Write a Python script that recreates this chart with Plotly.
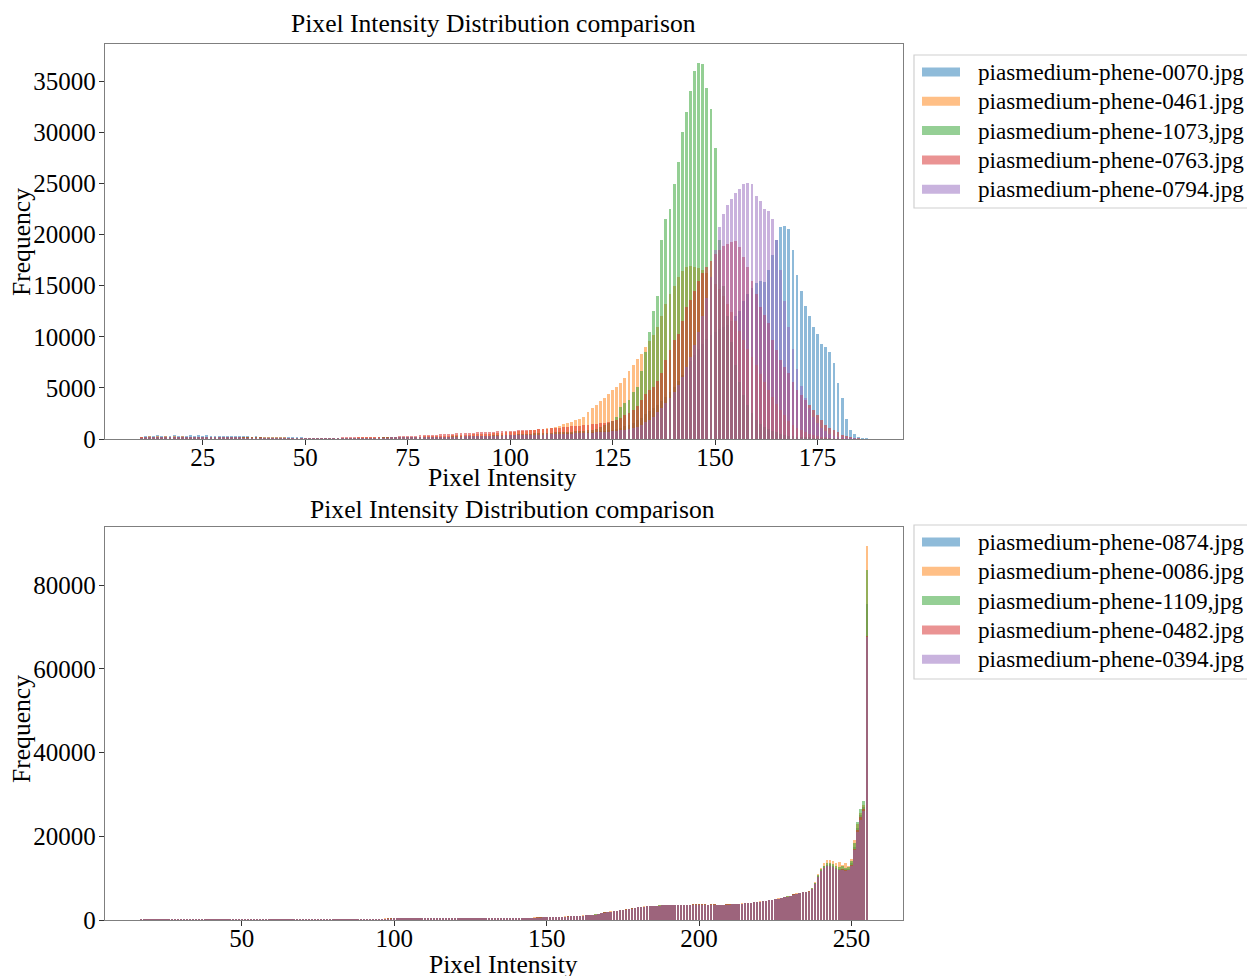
import plotly.graph_objects as go
from plotly.subplots import make_subplots

# ---------------- DATA ----------------
title_text = "Pixel Intensity Distribution comparison"
x_label = "Pixel Intensity"
y_label = "Frequency"

top_names = ["piasmedium-phene-0070.jpg", "piasmedium-phene-0461.jpg", "piasmedium-phene-1073,jpg",
             "piasmedium-phene-0763.jpg", "piasmedium-phene-0794.jpg"]
bottom_names = ["piasmedium-phene-0874.jpg", "piasmedium-phene-0086.jpg", "piasmedium-phene-1109,jpg",
                "piasmedium-phene-0482.jpg", "piasmedium-phene-0394.jpg"]

colors = ["#1f77b4", "#ff7f0e", "#2ca02c", "#d62728", "#9467bd"]

top_start = 10      # first pixel intensity of the top-panel lists
bottom_start = 17   # first pixel intensity of the bottom-panel lists

top_0070 = [
    150, 280, 320, 300, 350, 280, 330, 300, 360, 290,
    340, 310, 370, 300, 350, 320, 380, 300, 340, 310,
    330, 290, 320, 280, 300, 260, 280, 240, 250, 220,
    200, 180, 170, 150, 140, 130, 120, 110, 100, 100,
    90, 90, 80, 80, 80, 70, 70, 70, 70, 70,
    70, 70, 70, 80, 80, 80, 90, 90, 100, 100,
    110, 110, 120, 120, 130, 130, 140, 150, 150, 160,
    170, 170, 180, 190, 200, 200, 210, 220, 230, 240,
    250, 260, 270, 280, 290, 300, 310, 320, 330, 340,
    350, 360, 370, 380, 390, 400, 410, 420, 430, 450,
    460, 480, 500, 520, 540, 560, 580, 600, 620, 650,
    680, 720, 760, 800, 850, 900, 980, 1100, 1250, 1400,
    1600, 1850, 2100, 2400, 2700, 3000, 3300, 3700, 4100, 4600,
    5100, 5700, 6300, 7000, 7600, 8200, 8800, 9300, 9800, 10200,
    10500, 10800, 11000, 11200, 11500, 12000, 12500, 13500, 14200, 14800,
    15300, 15500, 15400, 16500, 18000, 19500, 20700, 20800, 20500, 18500,
    16000, 14500, 13000, 12000, 11000, 10300, 9300, 9000, 8500, 7400,
    5500, 4000, 2000, 900, 500, 200, 80, 30]

top_0461 = [
    100, 200, 250, 230, 260, 240, 250, 230, 260, 240,
    250, 230, 240, 220, 240, 220, 230, 210, 220, 200,
    210, 190, 200, 180, 180, 170, 160, 150, 150, 140,
    130, 120, 110, 110, 100, 100, 90, 90, 80, 80,
    80, 70, 70, 70, 70, 70, 70, 70, 80, 80,
    80, 90, 90, 100, 100, 110, 110, 120, 130, 140,
    150, 160, 170, 180, 190, 200, 210, 220, 230, 250,
    260, 280, 290, 300, 320, 340, 350, 370, 390, 410,
    430, 450, 470, 490, 510, 530, 560, 590, 620, 650,
    680, 710, 740, 780, 820, 860, 900, 950, 1000, 1060,
    1120, 1200, 1300, 1420, 1550, 1700, 1850, 2000, 2200, 2600,
    3000, 3300, 3700, 4000, 4400, 4800, 5100, 5500, 6000, 6700,
    7200, 7800, 8350, 9000, 9600, 10200, 11000, 12000, 13200, 14200,
    15000, 15800, 16400, 16800, 16900, 16800, 16700, 16500, 16200, 15800,
    15200, 14700, 14000, 13200, 12400, 11500, 10600, 9700, 8800, 8000,
    7200, 6400, 5600, 4800, 4100, 3400, 2800, 2300, 1800, 1400,
    1100, 850, 650, 480, 350, 250, 170, 110, 70, 40,
    20, 10, 0, 0, 0, 0, 0, 0]

top_1073 = [
    80, 150, 200, 180, 220, 200, 210, 190, 220, 200,
    210, 190, 200, 180, 200, 180, 190, 170, 180, 160,
    170, 150, 160, 140, 140, 130, 120, 110, 110, 100,
    90, 90, 80, 80, 70, 70, 60, 60, 60, 60,
    50, 50, 50, 50, 50, 50, 50, 50, 60, 60,
    60, 60, 70, 70, 70, 80, 80, 90, 90, 100,
    100, 110, 120, 120, 130, 140, 150, 160, 170, 180,
    190, 200, 210, 220, 230, 240, 250, 260, 270, 280,
    290, 300, 310, 320, 330, 340, 350, 360, 380, 400,
    420, 440, 460, 480, 500, 520, 540, 560, 580, 600,
    620, 640, 660, 680, 700, 720, 740, 770, 800, 850,
    900, 1000, 1200, 1400, 1550, 1800, 2170, 3150, 3500, 3800,
    4600, 5100, 6700, 8500, 10500, 12500, 14000, 19500, 21500, 22500,
    24900, 27100, 30000, 32000, 34000, 36000, 36800, 36700, 34300, 32300,
    28500, 19500, 15000, 12000, 9500, 7200, 5600, 4300, 3300, 2500,
    1900, 1500, 1200, 1000, 800, 650, 500, 400, 330, 270,
    220, 180, 140, 110, 90, 70, 50, 40, 30, 20,
    10, 0, 0, 0, 0, 0, 0, 0]

top_0763 = [
    100, 180, 220, 200, 230, 210, 220, 200, 230, 200,
    210, 200, 210, 190, 200, 180, 190, 170, 180, 160,
    170, 150, 150, 140, 130, 120, 120, 110, 100, 100,
    90, 90, 80, 80, 80, 70, 70, 70, 70, 70,
    70, 70, 70, 70, 80, 80, 80, 90, 90, 100,
    100, 110, 120, 130, 140, 150, 160, 170, 180, 190,
    200, 220, 240, 260, 280, 300, 320, 340, 360, 380,
    400, 420, 440, 460, 480, 500, 520, 540, 560, 580,
    600, 620, 640, 660, 680, 700, 720, 740, 760, 780,
    800, 820, 840, 860, 880, 900, 920, 950, 980, 1010,
    1040, 1080, 1120, 1160, 1200, 1240, 1280, 1320, 1360, 1400,
    1450, 1500, 1530, 1580, 1650, 1750, 1850, 2050, 2300, 2550,
    2830, 3200, 3800, 4400, 4800, 5100, 5700, 6430, 7700, 8700,
    9650, 10300, 11500, 12900, 13550, 14500, 15500, 16200, 16800, 17450,
    18100, 18500, 18900, 19100, 19300, 19400, 18750, 17800, 16800, 15500,
    14200, 12900, 12100, 11300, 9650, 8700, 7700, 7000, 6430, 5600,
    4780, 4300, 3800, 3300, 2830, 2300, 1850, 1400, 1100, 880,
    700, 400, 300, 150, 80, 30, 0, 0]

top_0794 = [
    80, 140, 170, 160, 180, 170, 180, 160, 170, 160,
    170, 160, 160, 150, 150, 140, 140, 130, 130, 120,
    120, 110, 110, 100, 100, 90, 90, 80, 80, 80,
    70, 70, 60, 60, 60, 60, 50, 50, 50, 50,
    50, 50, 50, 50, 50, 50, 50, 50, 50, 60,
    60, 60, 60, 70, 70, 70, 80, 80, 80, 90,
    90, 100, 100, 110, 110, 120, 120, 130, 140, 150,
    160, 170, 180, 190, 200, 210, 220, 230, 240, 250,
    260, 270, 280, 290, 300, 310, 320, 330, 340, 350,
    360, 370, 380, 390, 400, 410, 420, 430, 440, 450,
    460, 470, 480, 490, 500, 520, 540, 560, 580, 600,
    620, 640, 660, 690, 720, 760, 800, 850, 900, 960,
    1050, 1200, 1400, 1650, 1900, 2200, 2600, 3000, 3500, 4000,
    4600, 5300, 6100, 7000, 8000, 9200, 10500, 12000, 13800, 15800,
    18500, 20700, 22000, 22900, 23500, 24100, 24500, 24900, 25000, 24900,
    23800, 23300, 22500, 22300, 21500, 19500, 16500, 13500, 11000, 8800,
    6800, 5200, 4000, 3000, 2200, 1600, 1100, 750, 500, 320,
    200, 120, 70, 40, 20, 0, 0, 0]

bottom_0874 = [
    40, 30, 30, 40, 30, 30, 40, 30, 30, 30, 40, 30, 30,
    30, 30, 30, 40, 30, 30, 30, 40, 40, 40,
    40, 40, 40, 50, 50, 50, 50, 50, 60, 60,
    60, 60, 60, 70, 70, 70, 70, 80, 80, 80,
    90, 90, 90, 100, 100, 100, 110, 110, 120, 120,
    130, 130, 140, 140, 150, 150, 160, 160, 170, 170,
    180, 180, 190, 190, 200, 200, 200, 210, 210, 210,
    220, 220, 220, 230, 230, 230, 240, 240, 240, 250,
    250, 250, 260, 260, 260, 270, 270, 270, 280, 280,
    280, 290, 290, 290, 300, 300, 300, 310, 310, 320,
    320, 330, 330, 340, 340, 350, 350, 360, 360, 370,
    380, 390, 400, 410, 420, 430, 440, 450, 460, 470,
    480, 490, 500, 510, 520, 540, 560, 580, 600, 620,
    640, 660, 690, 720, 750, 780, 810, 840, 880, 920,
    960, 1000, 1050, 1100, 1150, 1200, 1300, 1500, 1700, 1800,
    1900, 2000, 2100, 2200, 2300, 2400, 2500, 2600, 2750, 2900,
    3000, 3100, 3200, 3250, 3300, 3350, 3400, 3450, 3500, 3550,
    3550, 3600, 3600, 3600, 3650, 3650, 3650, 3650, 3700, 3700,
    3700, 3700, 3700, 3650, 3700, 3700, 3650, 3600, 3650, 3700,
    3700, 3750, 3800, 3800, 3900, 4000, 4050, 4100, 4200, 4300,
    4400, 4450, 4600, 4700, 4800, 5000, 5100, 5200, 5400, 5600,
    5800, 6100, 6300, 6500, 6600, 6700, 6800, 7500, 8800, 10500,
    12000, 12800, 13200, 13400, 13000, 12500, 12200, 12300, 12100, 12200,
    13500, 17500, 22000, 25000, 27000, 75500]

bottom_0086 = [
    30, 40, 30, 30, 40, 30, 30, 40, 30, 30, 30, 40, 30,
    30, 40, 30, 30, 30, 40, 30, 40, 40, 50,
    40, 40, 50, 50, 50, 50, 60, 50, 60, 60,
    60, 70, 60, 70, 70, 80, 70, 80, 80, 90,
    90, 90, 100, 100, 100, 110, 110, 120, 120, 130,
    130, 140, 140, 150, 150, 160, 160, 170, 170, 180,
    180, 190, 190, 200, 200, 210, 210, 210, 220, 220,
    220, 230, 230, 230, 240, 240, 240, 250, 250, 250,
    260, 260, 260, 270, 270, 270, 280, 280, 280, 290,
    290, 290, 300, 300, 300, 310, 310, 320, 320, 330,
    330, 340, 340, 350, 350, 360, 360, 370, 380, 390,
    400, 410, 420, 430, 440, 450, 460, 470, 480, 490,
    500, 510, 520, 540, 560, 580, 600, 620, 640, 660,
    680, 700, 730, 760, 790, 820, 850, 890, 930, 970,
    1010, 1050, 1100, 1150, 1200, 1250, 1350, 1550, 1750, 1850,
    1950, 2050, 2150, 2250, 2350, 2450, 2550, 2650, 2800, 2950,
    3050, 3150, 3250, 3300, 3350, 3400, 3450, 3500, 3550, 3600,
    3600, 3650, 3650, 3650, 3700, 3700, 3700, 3700, 3750, 3750,
    3750, 3750, 3750, 3700, 3750, 3750, 3700, 3650, 3700, 3750,
    3750, 3800, 3850, 3850, 3950, 4050, 4100, 4150, 4250, 4350,
    4450, 4500, 4650, 4750, 4850, 5050, 5150, 5250, 5450, 5650,
    5850, 6150, 6350, 6550, 6650, 6750, 6850, 7600, 9000, 11000,
    12500, 13500, 14300, 14300, 14000, 13500, 13800, 13200, 13600, 13000,
    14500, 19000, 23000, 25500, 27500, 89400]

bottom_1109 = [
    30, 30, 40, 30, 30, 40, 30, 30, 40, 30, 30, 30, 40,
    30, 30, 40, 30, 30, 40, 30, 30, 40, 40,
    40, 50, 40, 50, 50, 50, 50, 60, 60, 60,
    60, 60, 70, 70, 70, 70, 80, 80, 80, 80,
    90, 90, 90, 100, 100, 110, 110, 110, 120, 120,
    130, 130, 140, 140, 150, 150, 160, 160, 170, 170,
    180, 180, 190, 190, 200, 200, 200, 210, 210, 220,
    220, 220, 230, 230, 230, 240, 240, 240, 250, 250,
    250, 260, 260, 260, 270, 270, 270, 280, 280, 280,
    290, 290, 290, 300, 300, 310, 310, 310, 320, 320,
    330, 330, 340, 340, 350, 350, 360, 360, 370, 380,
    390, 400, 410, 420, 430, 440, 450, 460, 470, 480,
    490, 500, 510, 520, 540, 560, 580, 600, 620, 640,
    660, 680, 710, 740, 770, 800, 830, 860, 900, 940,
    980, 1020, 1070, 1120, 1170, 1220, 1320, 1520, 1720, 1820,
    1920, 2020, 2120, 2220, 2320, 2420, 2520, 2620, 2770, 2920,
    3020, 3120, 3220, 3270, 3320, 3370, 3420, 3470, 3520, 3570,
    3570, 3620, 3620, 3620, 3670, 3670, 3670, 3670, 3720, 3720,
    3720, 3720, 3720, 3670, 3720, 3720, 3670, 3620, 3670, 3720,
    3720, 3770, 3820, 3820, 3920, 4020, 4070, 4120, 4220, 4320,
    4420, 4470, 4620, 4720, 4820, 5020, 5120, 5220, 5420, 5620,
    5820, 6120, 6320, 6520, 6620, 6720, 6820, 7550, 8900, 10700,
    12300, 13000, 13700, 13600, 13300, 12800, 12600, 12900, 12400, 12700,
    14000, 18500, 23500, 26500, 28500, 83500]

bottom_0482 = [
    40, 30, 30, 30, 40, 30, 30, 30, 40, 30, 30, 40, 30,
    30, 30, 40, 30, 30, 30, 40, 40, 40, 40,
    40, 40, 40, 50, 50, 50, 50, 60, 60, 60,
    60, 60, 70, 70, 70, 70, 80, 80, 80, 90,
    90, 90, 100, 100, 100, 110, 110, 120, 120, 130,
    130, 140, 140, 150, 150, 160, 160, 170, 170, 180,
    180, 190, 190, 200, 200, 200, 210, 210, 210, 220,
    220, 220, 230, 230, 230, 240, 240, 240, 250, 250,
    250, 260, 260, 260, 270, 270, 270, 280, 280, 280,
    290, 290, 290, 300, 300, 300, 310, 310, 320, 320,
    330, 330, 340, 340, 350, 350, 360, 360, 370, 380,
    390, 400, 410, 420, 430, 440, 450, 460, 470, 480,
    490, 500, 510, 520, 540, 560, 580, 600, 620, 640,
    660, 680, 700, 730, 760, 790, 820, 850, 890, 930,
    970, 1010, 1060, 1110, 1160, 1210, 1310, 1510, 1710, 1810,
    1910, 2010, 2110, 2210, 2310, 2410, 2510, 2610, 2760, 2910,
    3010, 3110, 3210, 3260, 3310, 3360, 3410, 3460, 3510, 3560,
    3560, 3610, 3610, 3610, 3660, 3660, 3660, 3660, 3710, 3710,
    3710, 3710, 3710, 3660, 3710, 3710, 3660, 3610, 3660, 3710,
    3710, 3760, 3810, 3810, 3910, 4010, 4060, 4110, 4210, 4310,
    4410, 4460, 4610, 4710, 4810, 5010, 5110, 5210, 5410, 5610,
    5810, 6110, 6310, 6510, 6610, 6710, 6810, 7450, 8700, 10300,
    11800, 12500, 12900, 13000, 12700, 12200, 12000, 12100, 11900, 12000,
    13200, 17000, 21500, 24500, 26500, 67800]

bottom_0394 = [
    30, 30, 40, 30, 30, 30, 40, 30, 30, 40, 30, 30, 30,
    40, 30, 30, 30, 40, 30, 30, 40, 40, 40,
    40, 40, 50, 50, 40, 50, 50, 50, 60, 60,
    60, 60, 60, 70, 70, 70, 80, 70, 80, 80,
    90, 90, 90, 100, 100, 100, 110, 110, 110, 120,
    120, 130, 140, 140, 150, 150, 150, 160, 170, 170,
    180, 180, 180, 190, 190, 200, 200, 200, 210, 210,
    210, 220, 220, 230, 230, 230, 230, 240, 240, 240,
    250, 250, 250, 260, 260, 270, 270, 270, 270, 280,
    280, 280, 290, 290, 300, 300, 300, 310, 310, 310,
    320, 320, 330, 330, 340, 340, 350, 350, 360, 370,
    380, 390, 400, 400, 410, 420, 430, 440, 450, 460,
    470, 480, 490, 500, 520, 540, 560, 580, 590, 610,
    630, 650, 680, 710, 740, 770, 800, 830, 870, 910,
    950, 990, 1040, 1090, 1140, 1190, 1290, 1490, 1690, 1790,
    1890, 1990, 2090, 2190, 2290, 2390, 2490, 2590, 2740, 2890,
    2990, 3090, 3190, 3240, 3290, 3340, 3390, 3440, 3490, 3540,
    3540, 3590, 3590, 3590, 3640, 3640, 3640, 3640, 3690, 3690,
    3690, 3690, 3690, 3640, 3690, 3690, 3640, 3590, 3640, 3690,
    3690, 3740, 3790, 3790, 3890, 3990, 4040, 4090, 4190, 4290,
    4390, 4440, 4590, 4690, 4790, 4990, 5090, 5190, 5390, 5590,
    5790, 6090, 6290, 6490, 6590, 6690, 6790, 7400, 8600, 10200,
    11700, 12400, 12800, 12900, 12600, 12100, 11900, 12000, 11800, 11900,
    13000, 16800, 21000, 24000, 26000, 67500]

top_series = [top_0070, top_0461, top_1073, top_0763, top_0794]
bottom_series = [bottom_0874, bottom_0086, bottom_1109, bottom_0482, bottom_0394]

top_xticks = [25, 50, 75, 100, 125, 150, 175]
top_yticks = [0, 5000, 10000, 15000, 20000, 25000, 30000, 35000]
bottom_xticks = [50, 100, 150, 200, 250]
bottom_yticks = [0, 20000, 40000, 60000, 80000]

# ---------------- LAYOUT HELPERS (reference pixel -> paper) ----------------
OFF = 8  # page body margin of the exported html
W, H = 1255 - OFF, 976 - OFF
L, R, T, B = 105, 903, 44, 920   # plot frame in reference pixels
def px_x(x):
    return (x - L) / (R - L)
def px_y(y):
    return (B - y) / (B - T)

FONT = "Liberation Serif"
TICK_SIZE = 25
LABEL_SIZE = 25.6
LEG_SIZE = 23.2

fig = make_subplots(rows=2, cols=1, vertical_spacing=0.0)

def add_panel(series, names, start, row, width):
    for vals, name, col in zip(series, names, colors):
        xs = list(range(start, start + len(vals)))
        fig.add_trace(go.Bar(x=xs, y=vals, name=name, width=width,
                             marker=dict(color=col, line=dict(width=0)),
                             opacity=0.5, showlegend=False),
                      row=row, col=1)
    n = max(len(v) for v in series)
    lo, hi = start, start + n - 1
    pad = 0.05 * (hi - lo)
    ymax = max(max(v) for v in series) * 1.05
    return [lo - pad, hi + pad], [0, ymax]

xr1, yr1 = add_panel(top_series, top_names, top_start, 1, 0.7)
xr2, yr2 = add_panel(bottom_series, bottom_names, bottom_start, 2, 0.8)

axis_common = dict(showline=True, mirror=True, linecolor="#7f7f7f", linewidth=1.3,
                   ticks="outside", ticklen=5, tickwidth=1.2, tickcolor="#333333",
                   showgrid=False, zeroline=False,
                   tickfont=dict(family=FONT, size=TICK_SIZE, color="black"))

fig.update_xaxes(range=xr1, tickvals=top_xticks, domain=[0, 1], ticklabelstandoff=-9,
                 row=1, col=1, **axis_common)
fig.update_yaxes(range=yr1, tickvals=top_yticks, tickformat="d", ticklabelstandoff=-2,
                 domain=[px_y(439), px_y(44)], row=1, col=1, **axis_common)
fig.update_xaxes(range=xr2, tickvals=bottom_xticks, domain=[0, 1], ticklabelstandoff=-9,
                 row=2, col=1, **axis_common)
fig.update_yaxes(range=yr2, tickvals=bottom_yticks, tickformat="d", ticklabelstandoff=-2,
                 domain=[px_y(920), px_y(527)], row=2, col=1, **axis_common)

annotations = []
def txt(text, x, y, size, angle=0, xanchor="center"):
    annotations.append(dict(text=text, x=px_x(x), y=px_y(y), xref="paper", yref="paper",
                            showarrow=False, xanchor=xanchor, yanchor="middle",
                            textangle=angle,
                            font=dict(family=FONT, size=size, color="black")))

# titles and axis labels
txt(title_text, 493, 23, LABEL_SIZE)
txt(title_text, 512, 509, LABEL_SIZE)
txt(x_label, 502, 478, LABEL_SIZE)
txt(x_label, 503, 964, LABEL_SIZE)
txt(y_label, 21, 242, LABEL_SIZE, angle=-90)
txt(y_label, 21, 729, LABEL_SIZE, angle=-90)

shapes = []
def legend(names, box_top, box_bottom, row0, step):
    shapes.append(dict(type="rect", xref="paper", yref="paper",
                       x0=px_x(914), x1=px_x(1275), y0=px_y(box_bottom), y1=px_y(box_top),
                       line=dict(color="#d0d0d0", width=1.2), fillcolor="rgba(255,255,255,0.8)",
                       layer="above"))
    for i, (name, col) in enumerate(zip(names, colors)):
        yc = row0 + i * step
        shapes.append(dict(type="rect", xref="paper", yref="paper",
                           x0=px_x(922), x1=px_x(960), y0=px_y(yc + 4.5), y1=px_y(yc - 4.5),
                           line=dict(width=0), fillcolor=col, opacity=0.5, layer="above"))
        txt(name, 976, yc, LEG_SIZE, xanchor="left")

legend(top_names, 55, 208, 72, 29.3)
legend(bottom_names, 525, 679, 542, 29.3)

fig.update_layout(width=W, height=H, barmode="overlay", bargap=0,
                  margin=dict(l=L - OFF, r=W - (R - OFF), t=T - OFF, b=H - (B - OFF)),
                  paper_bgcolor="white", plot_bgcolor="white",
                  annotations=annotations, shapes=shapes, showlegend=False)

fig.write_html("out.html")
